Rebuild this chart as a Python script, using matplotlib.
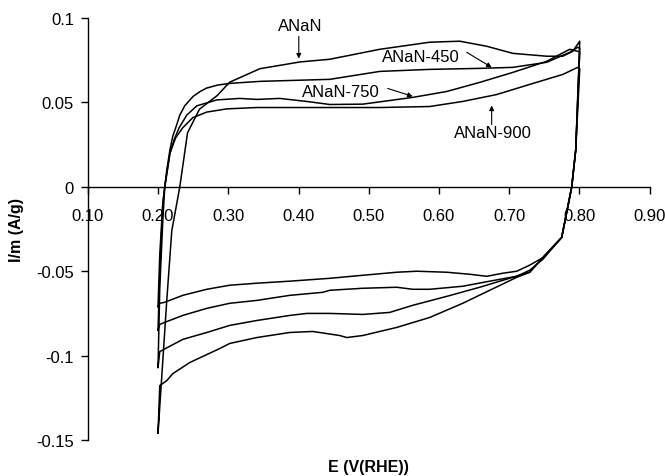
import numpy as np
import matplotlib.pyplot as plt

plt.rcParams['font.family'] = ['Liberation Sans', 'DejaVu Sans']

# cyclic voltammograms, E (V vs RHE) and I/m (A/g)
# each loop: anodic sweep 0.2 -> 0.8, then cathodic sweep 0.8 -> 0.2
e_anan = [0.200, 0.2125, 0.2196, 0.231, 0.242, 0.259, 0.284, 0.302, 0.345, 0.402,
          0.4445, 0.5157, 0.5868, 0.6295, 0.668, 0.705, 0.7534, 0.7762, 0.7904, 0.8004,
          0.7947, 0.789, 0.7833, 0.7747, 0.7477, 0.7292, 0.7107, 0.6722, 0.6338, 0.5868,
          0.5399, 0.4915, 0.4687, 0.4587, 0.4203, 0.3875, 0.3406, 0.3021, 0.2879, 0.2452,
          0.2210, 0.2125, 0.2025, 0.200]
i_anan = [-0.146, -0.067, -0.026, 0.0, 0.032, 0.046, 0.054, 0.062, 0.070, 0.074,
          0.0756, 0.0815, 0.0857, 0.0863, 0.0833, 0.0791, 0.0774, 0.0774, 0.0803, 0.0863,
          0.022, 0.0, -0.012, -0.030, -0.042, -0.0506, -0.0536, -0.0613, -0.0690, -0.0774,
          -0.0833, -0.0881, -0.0893, -0.0881, -0.0857, -0.0863, -0.0893, -0.0928, -0.0958, -0.1041,
          -0.1107, -0.1148, -0.1178, -0.146]

e_450 = [0.200, 0.2025, 0.2068, 0.2096, 0.2125, 0.217, 0.221, 0.226, 0.231, 0.238,
         0.250, 0.260, 0.269, 0.285, 0.302,
         0.345, 0.4445, 0.5157, 0.5868, 0.658, 0.705, 0.7534, 0.7861, 0.7975, 0.8004,
         0.7947, 0.789, 0.7833, 0.7747, 0.7477, 0.7292, 0.705, 0.658, 0.611, 0.5626,
         0.5299, 0.4915, 0.4445, 0.4117, 0.3875, 0.3406, 0.3021, 0.2694, 0.2352, 0.2053,
         0.2025, 0.200]
i_450 = [-0.107, -0.060, -0.020, 0.0, 0.010, 0.022, 0.030, 0.036, 0.0425, 0.048,
         0.0536, 0.0565, 0.0585, 0.0603, 0.0613,
         0.0625, 0.0637, 0.0684, 0.0696, 0.0702, 0.0708, 0.0738, 0.0797, 0.0827, 0.0821,
         0.022, 0.0, -0.012, -0.030, -0.042, -0.0506, -0.0536, -0.0595, -0.0649, -0.0702,
         -0.0744, -0.0756, -0.0750, -0.0750, -0.0762, -0.0792, -0.0821, -0.0863, -0.0904, -0.0970,
         -0.0976, -0.107]

e_750 = [0.200, 0.2025, 0.2068, 0.2096, 0.217, 0.223, 0.230, 0.2409, 0.2552, 0.2836, 0.3164,
         0.3406, 0.3733, 0.4117, 0.4445, 0.4915, 0.5626, 0.611, 0.658, 0.705, 0.7534,
         0.7861, 0.8004,
         0.7947, 0.789, 0.7833, 0.7747, 0.7477, 0.7292, 0.7107, 0.6722, 0.6338, 0.5868,
         0.5626, 0.5399, 0.4915, 0.4445, 0.4345, 0.3875, 0.3406, 0.3021, 0.2694, 0.2352,
         0.2096, 0.2025, 0.200]
i_750 = [-0.085, -0.050, -0.010, 0.0, 0.020, 0.028, 0.035, 0.0425, 0.0480, 0.0515, 0.0524,
         0.0518, 0.0524, 0.0506, 0.0488, 0.0490, 0.0530, 0.0565, 0.0619, 0.0678, 0.0744,
         0.0815, 0.0800,
         0.022, 0.0, -0.012, -0.030, -0.043, -0.0494, -0.0530, -0.0559, -0.0589, -0.0607,
         -0.0607, -0.0595, -0.0601, -0.0613, -0.0625, -0.0643, -0.0673, -0.0690, -0.0720, -0.0762,
         -0.0803, -0.0815, -0.085]

e_900 = [0.200, 0.2025, 0.2068, 0.2096, 0.217, 0.225, 0.2352, 0.2495, 0.2694, 0.2979, 0.3406,
         0.3875, 0.4587, 0.5157, 0.5868, 0.6338, 0.6822, 0.7292, 0.7762, 0.7975, 0.8004,
         0.7947, 0.789, 0.7833, 0.7747, 0.7477, 0.7292, 0.7107, 0.6907, 0.668, 0.6438,
         0.611, 0.5683, 0.5399, 0.4915, 0.4445, 0.3875, 0.3406, 0.3021, 0.2694, 0.2352,
         0.2096, 0.2025, 0.200]
i_900 = [-0.071, -0.040, -0.010, 0.0, 0.020, 0.029, 0.035, 0.0410, 0.0443, 0.0462, 0.0470,
         0.0470, 0.0470, 0.0470, 0.0476, 0.0506, 0.0547, 0.0607, 0.0666, 0.0708, 0.0700,
         0.022, 0.0, -0.012, -0.030, -0.042, -0.0464, -0.0500, -0.0512, -0.0530, -0.0518,
         -0.0506, -0.0500, -0.0506, -0.0524, -0.0542, -0.0559, -0.0571, -0.0583, -0.0607, -0.0643,
         -0.0684, -0.0690, -0.071]

x_ticks = [0.10, 0.20, 0.30, 0.40, 0.50, 0.60, 0.70, 0.80, 0.90]
y_ticks = [-0.15, -0.1, -0.05, 0, 0.05, 0.1]
y_tick_labels = ['-0.15', '-0.1', '-0.05', '0', '0.05', '0.1']

# label text, text position, arrow tip
notes = [
    ('ANaN', (0.4018, 0.0958), (0.4004, 0.0760)),
    ('ANaN-450', (0.574, 0.0774), (0.675, 0.0708)),
    ('ANaN-750', (0.460, 0.0565), (0.5626, 0.0536)),
    ('ANaN-900', (0.6765, 0.0321), (0.675, 0.0482)),
]
arrow_tails = [(0.4004, 0.0892), (0.6395, 0.0797), (0.527, 0.0583), (0.675, 0.0369)]

fig = plt.figure(figsize=(6.65, 4.77), dpi=100)
ax = fig.add_axes([0.132, 0.0755, 0.845, 0.8845])

for e, i in [(e_anan, i_anan), (e_450, i_450), (e_750, i_750), (e_900, i_900)]:
    ax.plot(e, i, color='black', lw=1.1, solid_joinstyle='round')

for (txt, tpos, tip), tail in zip(notes, arrow_tails):
    ax.text(tpos[0], tpos[1], txt, fontsize=12, ha='center', va='center')
    ax.annotate('', xy=tip, xytext=tail,
                arrowprops=dict(arrowstyle='-|>', color='black', lw=0.8,
                                mutation_scale=7, shrinkA=0, shrinkB=0))

ax.set_xlim(0.1, 0.9)
ax.set_ylim(-0.15, 0.1)
ax.spines['top'].set_visible(False)
ax.spines['right'].set_visible(False)
ax.spines['bottom'].set_position(('data', 0))
ax.spines['left'].set_linewidth(1.0)
ax.spines['bottom'].set_linewidth(1.0)

ax.set_xticks(x_ticks)
ax.set_xticklabels(['%.2f' % v for v in x_ticks])
ax.set_yticks(y_ticks)
ax.set_yticklabels(y_tick_labels)
ax.tick_params(axis='x', direction='out', length=5, width=1, pad=10, labelsize=12)
ax.tick_params(axis='y', direction='out', length=5, width=1, pad=5, labelsize=12)

ax.set_xlabel('E (V(RHE))', fontsize=11.5, fontweight='bold')
ax.xaxis.set_label_coords(0.5, -0.045)
ax.set_ylabel('I/m (A/g)', fontsize=11.5, fontweight='bold')
ax.yaxis.set_label_coords(-0.126, 0.5)
ax.yaxis.label.set_va('center')

fig.savefig('out.png', dpi=100)
